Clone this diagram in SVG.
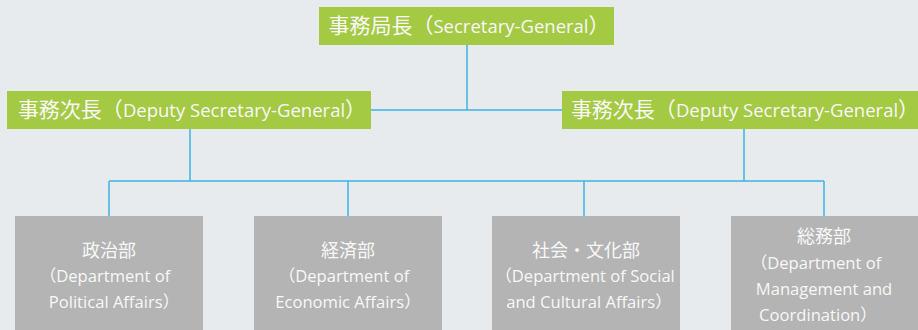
<svg xmlns="http://www.w3.org/2000/svg" width="918" height="330" viewBox="0 0 918 330">
<style>
.bg{fill:#e7ebee}
.g{fill:#a4c943}
.d{fill:#b3b4b3}
.t{fill:#f8f8f8;font-family:"Open Sans","Noto Sans CJK JP",sans-serif;text-anchor:middle}
.h{font-size:18.5px}
.h .j{font-size:21px}
.s{font-size:16.6px}
.s .j{font-size:18px}
.c{stroke:#3db4df;stroke-width:1.5;fill:none}
</style>
<rect class="bg" x="0" y="0" width="918" height="330"/>
<g id="connectors">
<path class="c" d="M467 45V110M371 110H562"/>
<path class="c" d="M190 129V181M744 129V181M109 181H824"/>
<path class="c" d="M109 181V216M348 181V216M584 181V216M824 181V216"/>
</g>
<g id="sg">
<rect class="g" x="319" y="7" width="295" height="38"/>
<text class="t h" x="469" y="33"><tspan class="j">事務局長（</tspan>Secretary-General<tspan class="j">）</tspan></text>
</g>
<g id="dsg-left">
<rect class="g" x="7" y="91" width="364" height="38"/>
<text class="t h" x="192" y="117"><tspan class="j">事務次長（</tspan>Deputy Secretary-General<tspan class="j">）</tspan></text>
</g>
<g id="dsg-right">
<rect class="g" x="562" y="91" width="356" height="38"/>
<text class="t h" x="745" y="117"><tspan class="j">事務次長（</tspan>Deputy Secretary-General<tspan class="j">）</tspan></text>
</g>
<g id="dept-political">
<rect class="d" x="15" y="216" width="188" height="114"/>
<text class="t s" x="109" y="257"><tspan class="j">政治部</tspan></text>
<text class="t s" x="105" y="282">（Department of</text>
<text class="t s" x="114" y="308">Political Affairs）</text>
</g>
<g id="dept-economic">
<rect class="d" x="254" y="216" width="188" height="114"/>
<text class="t s" x="348" y="257"><tspan class="j">経済部</tspan></text>
<text class="t s" x="344" y="282">（Department of</text>
<text class="t s" x="348" y="308">Economic Affairs）</text>
</g>
<g id="dept-social">
<rect class="d" x="492" y="216" width="188" height="114"/>
<text class="t s" x="586" y="257"><tspan class="j">社会・文化部</tspan></text>
<text class="t s" x="585" y="282">（Department of Social</text>
<text class="t s" x="589" y="308">and Cultural Affairs）</text>
</g>
<g id="dept-management">
<rect class="d" x="731" y="216" width="187" height="114"/>
<text class="t s" x="824" y="243"><tspan class="j">総務部</tspan></text>
<text class="t s" x="816" y="269">（Department of</text>
<text class="t s" x="824" y="295">Management and</text>
<text class="t s" x="818" y="321">Coordination）</text>
</g>
</svg>
